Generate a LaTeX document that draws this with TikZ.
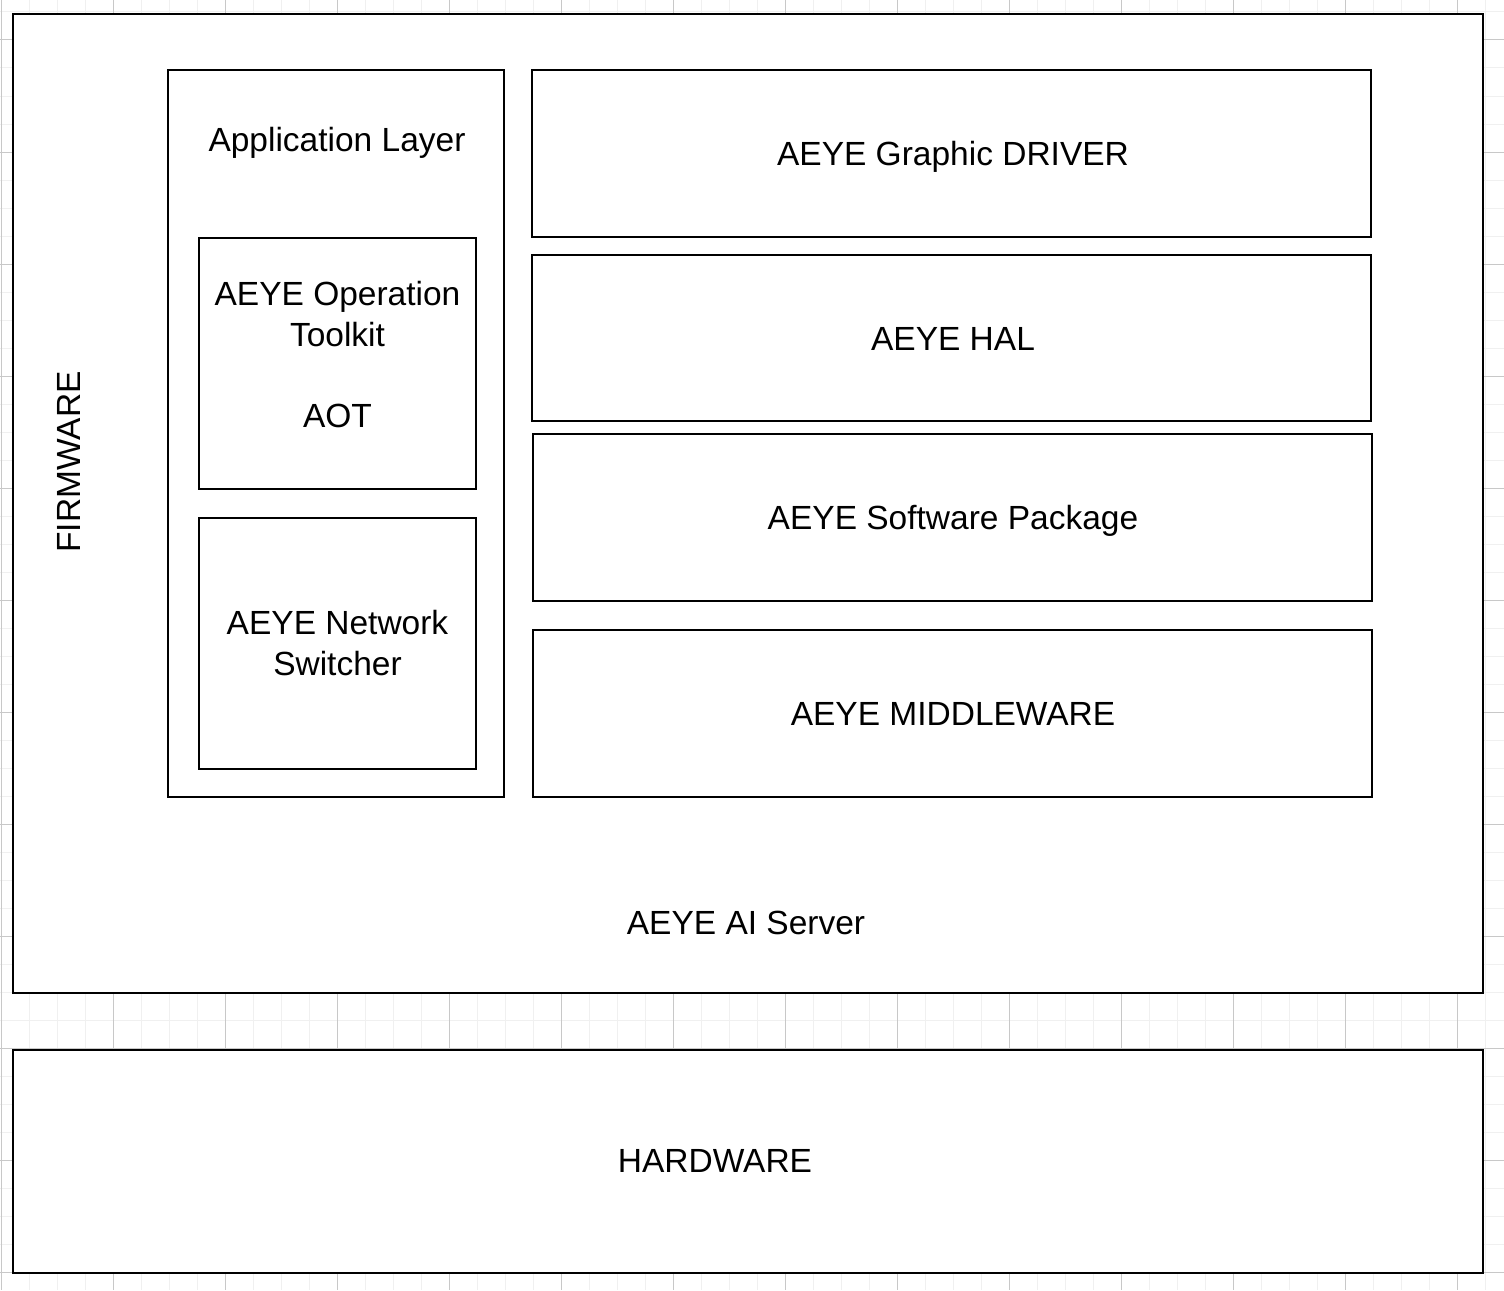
\documentclass[tikz,border=0pt]{standalone}
\usepackage{fontspec}
\setmainfont{Liberation Sans}
\begin{document}
\begin{tikzpicture}[x=1pt,y=-1pt,
  box/.style={draw=black, fill=white, line width=2.8pt, rectangle, inner sep=0pt},
  lbl/.style={font=\fontsize{33.5}{40.8}\selectfont, align=center, inner sep=0pt, text=black},
  one/.style={lbl, text height=24pt, text depth=0pt},
  minorgrid/.style={draw={rgb,255:red,240;green,240;blue,240}, line width=1pt},
  majorgrid/.style={draw={rgb,255:red,200;green,200;blue,200}, line width=1pt}]
\useasboundingbox (0,0) rectangle (1504,1290);
\fill[white] (0,0) rectangle (1504,1290);
% grid
\foreach \x in {1.7,29.7,...,1504} \draw[minorgrid] (\x,0) -- (\x,1290);
\foreach \y in {12,40,...,1290} \draw[minorgrid] (0,\y) -- (1504,\y);
\foreach \x in {1.7,113.7,...,1504} \draw[majorgrid] (\x,0) -- (\x,1290);
\foreach \y in {40,152,...,1290} \draw[majorgrid] (0,\y) -- (1504,\y);
% firmware
\node[box, minimum width=1470pt, minimum height=979pt] (fw) at (748,503.5) {};
\node[one, rotate=90] (fwl) at (68,462) {FIRMWARE};
\node[one] (srv) at (746,922) {AEYE AI Server};
% application layer
\node[box, minimum width=336pt, minimum height=727pt] (app) at (336,433.5) {};
\node[one] (appl) at (337,139) {Application Layer};
\node[box, minimum width=277pt, minimum height=251pt] (aot) at (337.5,363.5) {};
\node[lbl, anchor=north] (aotl) at (337.5,281) {AEYE Operation\\Toolkit\\\strut\\AOT};
\node[box, minimum width=277pt, minimum height=251pt] (nsw) at (337.5,643.5) {};
\node[lbl] (nswl) at (337.5,643) {AEYE Network\\Switcher};
% stack
\node[box, minimum width=839pt, minimum height=167pt] (drv) at (951.5,153.5) {};
\node[one] (drvl) at (953,153) {AEYE Graphic DRIVER};
\node[box, minimum width=839pt, minimum height=166pt] (hal) at (951.5,338) {};
\node[one] (hall) at (953,338) {AEYE HAL};
\node[box, minimum width=839pt, minimum height=167pt] (swp) at (952.5,517.5) {};
\node[one] (swpl) at (953,517) {AEYE Software Package};
\node[box, minimum width=839pt, minimum height=167pt] (mid) at (952.5,713.5) {};
\node[one] (midl) at (953,713) {AEYE MIDDLEWARE};
% hardware
\node[box, minimum width=1470pt, minimum height=223pt] (hw) at (748,1161.5) {};
\node[one] (hwl) at (715,1160) {HARDWARE};
\end{tikzpicture}
\end{document}
